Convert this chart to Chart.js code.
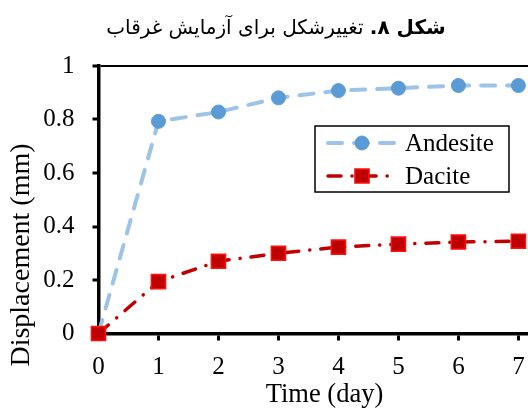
<!DOCTYPE html>
<html>
<head>
<meta charset="utf-8">
<script src="https://cdn.jsdelivr.net/npm/chart.js@4/dist/chart.umd.min.js"></script>
<style>
  body { margin: 0; background: #fff; }
  #wrap { position: relative; width: 528px; height: 408px; }
  #title {
    position: absolute; top: 15px; left: 12px; width: 528px;
    text-align: center; font-family: 'DejaVu Sans', sans-serif; font-size: 20px; color: #000;
  }
  #title b { font-weight: bold; }
</style>
</head>
<body>
<div id="wrap">
  <canvas id="chart" width="528" height="408"></canvas>
  <div id="title" dir="rtl"><b>شکل ۸.</b> تغییرشکل برای آزمایش غرقاب</div>
</div>
<script>
        const days = [0, 1, 2, 3, 4, 5, 6, 7];
        const andesite = [0, 0.793, 0.828, 0.881, 0.908, 0.917, 0.927, 0.927];
        const dacite = [0, 0.194, 0.27, 0.30, 0.323, 0.334, 0.342, 0.345];
        const yTicks = [0, 0.2, 0.4, 0.6, 0.8, 1];

        const serif = "'Liberation Serif', 'Times New Roman', serif";

        // legend box inside the plot, like the original
        const boxLegend = {
            id: 'boxLegend',
            afterDatasetsDraw(chart) {
                const ctx = chart.ctx;
                ctx.save();
                ctx.fillStyle = '#fff';
                ctx.fillRect(315, 126, 194, 66);
                ctx.strokeStyle = '#000';
                ctx.lineWidth = 1.5;
                ctx.strokeRect(315, 126, 194, 66);
                chart.data.datasets.forEach((ds, i) => {
                    const y = 143 + i * 33;
                    ctx.setLineDash(ds.borderDash);
                    ctx.lineCap = 'round';
                    ctx.strokeStyle = ds.borderColor;
                    ctx.lineWidth = ds.borderWidth;
                    ctx.beginPath();
                    ctx.moveTo(328, y);
                    ctx.lineTo(396, y);
                    ctx.stroke();
                    ctx.setLineDash([]);
                    ctx.fillStyle = ds.pointBackgroundColor;
                    ctx.strokeStyle = ds.pointBorderColor;
                    ctx.lineWidth = ds.pointBorderWidth;
                    Chart.helpers.drawPoint(ctx, {
                        pointStyle: ds.pointStyle, rotation: 0,
                        radius: ds.pointRadius, borderWidth: ds.pointBorderWidth
                    }, 362, y);
                    ctx.fillStyle = '#000';
                    ctx.font = '25px ' + serif;
                    ctx.textBaseline = 'middle';
                    ctx.fillText(ds.label, 405, y + 1);
                });
                ctx.restore();
            }
        };

        // axis titles are off-centre in the original (plot is cropped on the right)
        const axisTitles = {
            id: 'axisTitles',
            afterDraw(chart) {
                const ctx = chart.ctx;
                ctx.save();
                ctx.fillStyle = '#000';
                ctx.textAlign = 'center';
                ctx.textBaseline = 'middle';
                ctx.font = '26.5px ' + serif;
                ctx.fillText('Time (day)', 324.5, 395);
                ctx.translate(22, 255);
                ctx.rotate(-Math.PI / 2);
                ctx.font = '28px ' + serif;
                ctx.fillText('Displacement (mm)', 0, 0);
                ctx.restore();
            }
        };

        const chart = new Chart(document.getElementById('chart'), {
            type: 'line',
            data: {
                labels: days,
                datasets: [{
                    label: 'Andesite',
                    data: days.map((d, i) => ({ x: d, y: andesite[i] })),
                    borderColor: '#9DC3E6',
                    borderWidth: 4,
                    borderDash: [14, 12],
                    borderCapStyle: 'round',
                    pointStyle: 'circle',
                    pointRadius: 7,
                    pointBackgroundColor: '#5B9BD5',
                    pointBorderColor: '#5B9BD5',
                    pointBorderWidth: 1,
                    tension: 0,
                    clip: false,
                    order: 1
                }, {
                    label: 'Dacite',
                    data: days.map((d, i) => ({ x: d, y: dacite[i] })),
                    borderColor: '#C00000',
                    borderWidth: 3.5,
                    borderDash: [13, 11, 0.1, 11],
                    borderCapStyle: 'round',
                    pointStyle: 'rect',
                    pointRadius: 10,
                    pointBackgroundColor: '#C00000',
                    pointBorderColor: '#FF1010',
                    pointBorderWidth: 1.5,
                    tension: 0,
                    clip: false,
                    order: 0
                }]
            },
            options: {
                responsive: false,
                animation: false,
                devicePixelRatio: 1,
                layout: { autoPadding: false, padding: { top: 66, right: 0, left: 0, bottom: 0 } },
                plugins: {
                    legend: { display: false },
                    tooltip: { enabled: false }
                },
                scales: {
                    x: {
                        type: 'linear',
                        min: 0,
                        max: 7.16,
                        afterFit: s => { s.height = 74.5; s.paddingRight = 0; s.paddingLeft = 0; },
                        border: { display: true, color: '#000', width: 3.5 },
                        grid: { drawOnChartArea: false, tickLength: 7, tickColor: '#000', tickWidth: 3 },
                        ticks: {
                            stepSize: 1, includeBounds: false, padding: 12,
                            color: '#000', font: { family: serif, size: 25 }, maxRotation: 0
                        }
                    },
                    y: {
                        min: 0,
                        max: 1,
                        afterFit: s => { s.width = 98.5; },
                        afterBuildTicks: s => { s.ticks = yTicks.map(v => ({ value: v })); },
                        border: { display: true, color: '#000', width: 3.5 },
                        grid: {
                            drawOnChartArea: true,
                            color: c => (c.tick && c.tick.value === 1) ? '#000' : 'rgba(0,0,0,0)',
                            lineWidth: 2,
                            tickLength: 6, tickColor: '#000', tickWidth: 3
                        },
                        ticks: {
                            padding: 18, color: '#000', font: { family: serif, size: 25 },
                            callback: v => String(+v.toFixed(1))
                        }
                    }
                }
            },
            plugins: [boxLegend, axisTitles]
        });
</script>
</body>
</html>
